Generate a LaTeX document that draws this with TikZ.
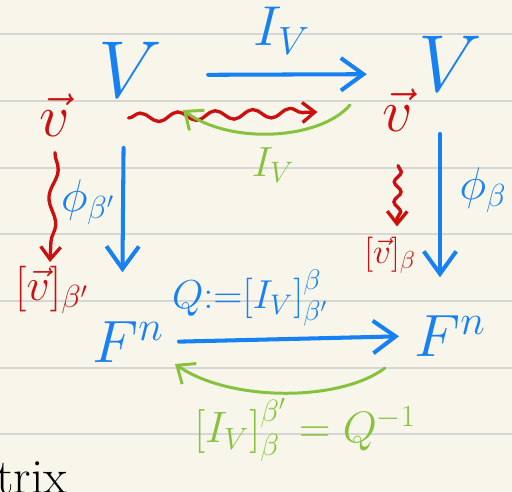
\documentclass[tikz,border=0pt]{standalone}
\usepackage{fix-cm}
\usepackage{amsmath,amssymb}
\usepackage{xcolor}
\usepackage{tikz}
\usetikzlibrary{arrows.meta,positioning,decorations.pathmorphing,calc}

\definecolor{paper}{HTML}{F8F6EB}
\definecolor{ruled}{HTML}{D6D6D4}
\definecolor{inkblue}{HTML}{1780F2}
\definecolor{inkred}{HTML}{CC1010}
\definecolor{inkgreen}{HTML}{86C23E}

\begin{document}
\begin{tikzpicture}[x=0.02cm, y=-0.02cm,
  bsym/.style={inner sep=0pt, text=inkblue},
  rsym/.style={inner sep=0pt, text=inkred},
  gsym/.style={inner sep=0pt, text=inkgreen},
  ruleline/.style={draw=ruled, line width=1.1pt},
  barrow/.style={-{Straight Barb[length=4.5mm, width=6.5mm]}, line width=2.3pt, line cap=round, color=inkblue},
  rwave/.style={-{Straight Barb[length=2.5mm, width=4mm]}, line width=1.9pt, line cap=round, color=inkred,
    decorate, decoration={snake, amplitude=0.9mm, segment length=7.5mm, post length=1.5mm}},
  garrow/.style={-{Straight Barb[length=3mm, width=5mm]}, line width=1.7pt, line cap=round, color=inkgreen},
]

% paper and rules
\fill[paper] (0,0) rectangle (512,492);
\useasboundingbox (0,0) rectangle (512,492);
\foreach \ry in {34,101,168,234,301,368,434}
  \draw[ruleline] (0,\ry) -- (512,\ry);

% spaces
\node[bsym, font=\fontsize{46}{46}\selectfont] (VL) at (130,70) {$V$};
\node[bsym, font=\fontsize{46}{46}\selectfont] (VR) at (450,64) {$V$};
\node[bsym, font=\fontsize{34}{34}\selectfont] (FL) at (128,342) {$F^n$};
\node[bsym, font=\fontsize{34}{34}\selectfont] (FR) at (450,336) {$F^n$};

% vectors and coordinates
\node[rsym, font=\fontsize{34}{34}\selectfont] (vL) at (55,115) {$\vec{v}$};
\node[rsym, font=\fontsize{34}{34}\selectfont] (vR) at (398,110) {$\vec{v}$};
\node[rsym, font=\fontsize{26}{26}\selectfont] (cL) at (52,290) {$[\vec{v}]_{\beta'}$};
\node[rsym, font=\fontsize{20}{20}\selectfont] (cR) at (390,255) {$[\vec{v}]_{\beta}$};

% map labels
\node[bsym, font=\fontsize{32}{32}\selectfont] (tI) at (282,31) {$I_V$};
\node[gsym, font=\fontsize{24}{24}\selectfont] (mI) at (273,165) {$I_V$};
\node[bsym, font=\fontsize{26}{26}\selectfont] (pL) at (88,202) {$\phi_{\beta'}$};
\node[bsym, font=\fontsize{26}{26}\selectfont] (pR) at (483,190) {$\phi_{\beta}$};
\node[bsym, font=\fontsize{23}{23}\selectfont] (qd) at (250,298) {$Q{:=}[I_V]^{\beta}_{\beta'}$};
\node[gsym, font=\fontsize{25}{25}\selectfont] (qi) at (305,430) {$[I_V]^{\beta'}_{\beta}=Q^{-1}$};
\node[inner sep=0pt, anchor=west, font=\fontsize{28}{28}\selectfont] (tx) at (-4,478) {trix};

% blue maps
\draw[barrow, shorten <=9.2mm, shorten >=10.2mm] ([yshift=-1mm]VL.east) -- ([yshift=-2mm]VR.west);
\draw[barrow, shorten <=10mm, shorten >=9.8mm] ([xshift=-1.2mm]VL.south) -- ([xshift=-1.2mm]FL.north);
\draw[barrow, shorten <=8.4mm, shorten >=7.6mm] ([xshift=-2mm]VR.south) -- ([xshift=-2mm]FR.north);
\draw[barrow, shorten <=3mm, shorten >=3mm] (FL.east) -- (FR.west);

% red maps
\draw[rwave] ($(vL.east)+(58,3)$) -- ($(vR.west)+(-65,2)$);
\draw[rwave, decoration={amplitude=0.8mm, segment length=11mm}] ($(vL.south)+(0,16)$) -- ($(cL.north)+(-2,-4)$);
\draw[rwave, decoration={amplitude=0.7mm, segment length=4mm}] ($(vR.south)+(0,34)$) -- ($(cR.north)+(7,-10)$);

% green inverses
\coordinate (gA) at (350,105);
\coordinate (gB) at (183,110);
\coordinate (gC) at (385,368);
\coordinate (gD) at (175,364);
\draw[garrow] (gA) .. controls (320,140) and (230,145) .. (gB);
\draw[garrow] (gC) .. controls (340,402) and (230,402) .. (gD);

\end{tikzpicture}
\end{document}
